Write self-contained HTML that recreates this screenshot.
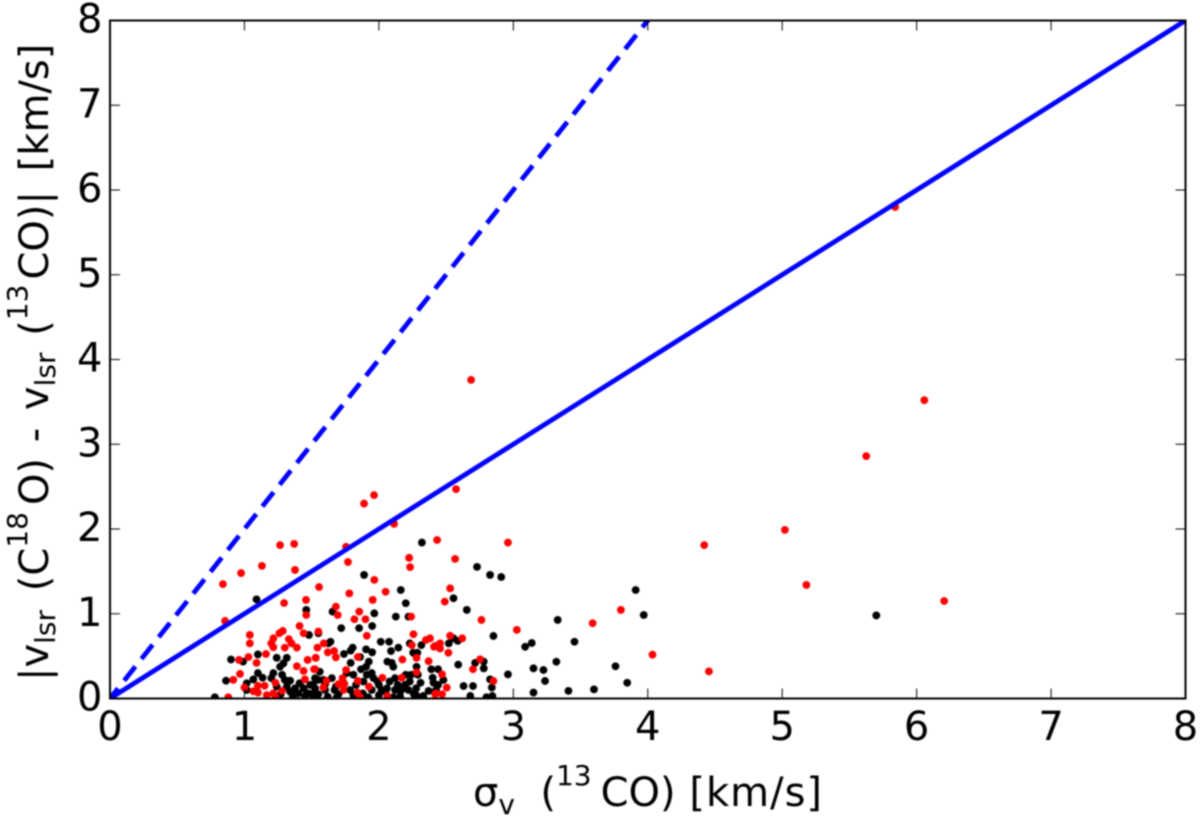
<!DOCTYPE html>
<html>
<head>
<meta charset="utf-8">
<title>Velocity offset scatter</title>
<style>
html,body{margin:0;padding:0;background:#fff;width:1200px;height:819px;overflow:hidden}
svg{display:block;filter:blur(0.75px)}
text{font-family:"DejaVu Sans","Liberation Sans",sans-serif;fill:#000}
</style>
</head>
<body>
<svg id="chart" xmlns="http://www.w3.org/2000/svg" width="1200" height="819" viewBox="0 0 1200 819">
  <defs><clipPath id="plot-clip"><rect x="110" y="20.5" width="1075.5" height="678"/></clipPath></defs>
  <g id="black-points" clip-path="url(#plot-clip)"></g>
  <g id="red-points" clip-path="url(#plot-clip)"></g>
  <g id="lines" clip-path="url(#plot-clip)"></g>
  <g id="ticks"></g>
  <rect x="110" y="20.5" width="1075.5" height="678" fill="none" stroke="#000" stroke-width="2"/>
  <text x="473" y="806" font-size="40" xml:space="preserve">σ<tspan font-size="28" dy="8">v</tspan><tspan dy="-8">  (</tspan><tspan font-size="28" dy="-21">13</tspan><tspan dy="21" dx="9">CO) </tspan><tspan dx="1" letter-spacing="1">[km/s]</tspan></text>
  <text transform="translate(48,681) rotate(-90)" font-size="40" xml:space="preserve">|v<tspan font-size="28" dy="7">lsr</tspan><tspan dy="-7"> </tspan><tspan dx="6">(C</tspan><tspan font-size="28" dy="-21">18</tspan><tspan dy="21" dx="7">O) </tspan><tspan dx="3">- </tspan><tspan dx="5">v</tspan><tspan font-size="28" dy="7">lsr</tspan><tspan dy="-7"> </tspan><tspan dx="4">(</tspan><tspan font-size="28" dy="-21">13</tspan><tspan dy="21" dx="5">CO)| </tspan><tspan dx="7">[km/s]</tspan></text>
</svg>
<script>
const xTickLabels = [0, 1, 2, 3, 4, 5, 6, 7, 8];
const yTickLabels = [0, 1, 2, 3, 4, 5, 6, 7, 8];
const solidLineSlope = [1];
const dashedLineSlope = [2];
const blackX = [
0.78,0.90,0.99,1.10,1.24,1.315,1.29,1.48,1.46,0.863,
1.066,1.10,1.135,1.017,1.215,1.265,1.28,1.30,1.34,1.20,
1.41,1.376,1.44,1.49,1.525,1.34,1.40,1.475,1.51,1.017,
1.24,1.315,1.55,1.655,1.966,2.126,2.22,1.72,1.853,1.95,
1.55,1.64,1.625,1.805,1.79,1.905,2.014,2.076,2.145,2.23,
2.316,2.09,2.255,2.286,1.74,1.86,1.95,1.79,1.925,1.905,
1.867,2.063,2.096,2.107,2.28,1.56,1.587,1.525,1.65,1.81,
1.947,1.91,1.96,1.885,2.0,2.08,2.12,2.14,2.06,2.12,
2.2,2.24,2.29,2.23,2.195,2.31,2.277,2.22,2.277,2.37,
2.39,2.44,2.40,2.425,2.44,1.51,1.525,1.67,1.687,1.786,
1.81,1.947,2.0,1.92,2.158,2.107,1.89,2.163,2.2,2.555,
2.73,2.827,2.91,2.654,2.852,3.33,3.088,3.137,3.32,3.15,
3.224,3.236,3.15,2.59,2.716,2.78,2.78,2.96,2.827,2.84,
2.63,2.70,2.68,2.80,2.844,2.52,2.587,2.555,2.48,2.406,
3.91,3.97,3.455,3.41,3.60,3.76,3.847,5.70,1.09,2.32,
1.70,1.60,1.55,1.62,1.76,1.88,2.02,2.16,2.33,1.45,
1.60,1.68,1.74,1.83,1.99,2.05,2.18,2.26,1.36,1.27
];
const blackY = [
0.015,0.46,0.435,0.52,0.48,0.48,0.415,0.75,1.045,0.21,
0.225,0.30,0.245,0.18,0.30,0.375,0.28,0.22,0.21,0.24,
0.18,0.12,0.12,0.16,0.12,0.08,0.06,0.06,0.04,0.10,
0.14,0.14,0.22,1.025,1.005,0.966,0.966,0.83,0.83,0.855,
0.77,0.67,0.65,0.60,0.565,0.58,0.67,0.67,0.60,0.65,
0.63,0.56,0.54,0.54,0.525,0.49,0.545,0.42,0.435,0.375,
0.345,0.435,0.42,0.375,0.375,0.316,0.22,0.24,0.24,0.28,
0.30,0.28,0.24,0.20,0.16,0.20,0.24,0.16,0.12,0.10,
0.28,0.28,0.28,0.20,0.16,0.186,0.12,0.10,0.04,0.09,
0.345,0.345,0.245,0.10,0.16,0.16,0.08,0.10,0.015,0.10,
0.04,0.10,0.04,0.015,0.02,0.015,1.458,1.28,1.124,1.183,
1.553,1.458,1.434,1.045,0.738,0.927,0.61,0.655,0.434,0.356,
0.336,0.207,0.07,0.40,0.42,0.435,0.356,0.285,0.226,0.13,
0.147,0.147,0.03,0.015,0.03,0.65,0.68,0.71,0.218,0.186,
1.28,0.985,0.67,0.09,0.108,0.38,0.186,0.98,1.17,1.84,
0.05,0.10,0.05,0.02,0.30,0.06,0.10,0.08,0.03,0.03,
0.17,0.14,0.18,0.16,0.20,0.08,0.12,0.05,0.03,0.05
];
const redX = [
0.856,1.04,1.04,1.41,1.46,1.285,1.26,1.33,1.215,1.20,
1.215,1.30,1.35,1.39,1.44,1.55,1.16,1.03,0.96,1.09,
1.47,1.53,1.39,1.44,1.525,0.967,0.917,1.45,1.23,1.0,
1.10,1.15,1.066,1.10,1.166,1.215,1.28,1.23,0.88,1.694,
1.818,1.90,1.854,2.24,1.91,2.257,1.59,1.543,1.62,1.667,
1.68,1.53,1.843,2.175,2.28,2.37,2.245,2.38,2.35,2.418,
1.518,1.756,2.28,2.026,2.17,1.843,1.61,1.587,1.73,1.70,
1.743,1.737,1.926,1.84,2.063,1.86,2.425,2.763,3.026,2.53,
2.62,2.455,2.455,2.41,2.517,2.753,2.70,2.47,2.852,2.505,
2.418,2.47,2.96,4.42,3.80,3.59,4.035,4.455,5.84,6.057,
5.625,5.02,5.18,6.205,2.686,2.574,1.964,1.89,2.113,2.433,
2.225,2.232,2.567,1.756,1.77,1.265,1.37,1.13,0.975,0.84,
1.376,1.555,1.458,1.295,1.966,1.78,2.05,1.954,1.68,2.53,
2.49
];
const redY = [
0.915,0.75,0.65,0.855,0.985,0.797,0.77,0.70,0.71,0.65,
0.605,0.60,0.65,0.60,0.77,0.79,0.525,0.49,0.455,0.42,
0.455,0.48,0.38,0.325,0.345,0.29,0.22,0.225,0.186,0.13,
0.15,0.15,0.085,0.07,0.04,0.06,0.09,0.02,0.015,0.985,
0.935,0.935,1.025,0.966,0.74,0.758,0.65,0.60,0.545,0.56,
0.486,0.48,0.49,0.46,0.48,0.44,0.63,0.71,0.69,0.62,
0.345,0.336,0.31,0.245,0.245,0.207,0.207,0.13,0.24,0.17,
0.17,0.10,0.14,0.07,0.03,0.015,0.06,0.927,0.81,0.74,
0.71,0.65,0.59,0.61,0.54,0.463,0.345,0.285,0.207,0.128,
0.05,0.05,1.84,1.81,1.045,0.888,0.517,0.32,5.80,3.52,
2.86,1.99,1.34,1.15,3.76,2.47,2.40,2.30,2.06,1.87,
1.66,1.55,1.647,1.79,1.61,1.81,1.824,1.565,1.48,1.35,
1.517,1.316,1.163,1.127,1.40,1.24,1.26,1.163,1.084,1.30,
1.143
];

const NS = 'http://www.w3.org/2000/svg';
const x0 = 110, xUnit = 134.44, y0 = 698.5, yUnit = 84.75;
function sx(v) { return x0 + v * xUnit; }
function sy(v) { return y0 - v * yUnit; }

function drawPoints(groupId, xs, ys, color, name) {
  const g = document.getElementById(groupId);
  xs.forEach(function (xv, i) {
    const c = document.createElementNS(NS, 'circle');
    c.setAttribute('cx', sx(xv));
    c.setAttribute('cy', sy(ys[i]));
    c.setAttribute('r', 3.9);
    c.setAttribute('fill', color);
    
    
    g.appendChild(c);
  });
}
drawPoints('black-points', blackX, blackY, '#000', 'black-point');
drawPoints('red-points', redX, redY, '#ff0000', 'red-point');

const lineGroup = document.getElementById('lines');
function drawLine(slope, dash, name) {
  const l = document.createElementNS(NS, 'line');
  l.setAttribute('x1', sx(0));
  l.setAttribute('y1', sy(0));
  l.setAttribute('x2', sx(8));
  l.setAttribute('y2', sy(8 * slope));
  l.setAttribute('stroke', '#0000ff');
  l.setAttribute('stroke-width', 4.8);
  if (dash) {
    l.setAttribute('stroke-dasharray', dash);
    l.setAttribute('stroke-dashoffset', 5);
  }
  
  
  lineGroup.appendChild(l);
}
drawLine(solidLineSlope[0], null, 'one-to-one-line');
drawLine(dashedLineSlope[0], '18 9.8', 'two-to-one-dashed-line');

const tickGroup = document.getElementById('ticks');
function tick(x1, y1, x2, y2) {
  const t = document.createElementNS(NS, 'line');
  t.setAttribute('x1', x1);
  t.setAttribute('y1', y1);
  t.setAttribute('x2', x2);
  t.setAttribute('y2', y2);
  t.setAttribute('stroke', '#000');
  t.setAttribute('stroke-width', 1);
  
  
  tickGroup.appendChild(t);
}
function label(x, y, str, anchor, name) {
  const t = document.createElementNS(NS, 'text');
  t.setAttribute('x', x);
  t.setAttribute('y', y);
  t.setAttribute('font-size', 40);
  t.setAttribute('text-anchor', anchor);
  t.textContent = str;
  
  
  tickGroup.appendChild(t);
}
xTickLabels.forEach(function (v) {
  tick(sx(v), 698.5, sx(v), 688.5);
  tick(sx(v), 20.5, sx(v), 30.5);
  label(sx(v), 740, String(v), 'middle', 'x-tick-label');
});
yTickLabels.forEach(function (v) {
  tick(110, sy(v), 120, sy(v));
  tick(1185.5, sy(v), 1175.5, sy(v));
  label(102.5, sy(v) + 12, String(v), 'end', 'y-tick-label');
});
</script>
</body>
</html>
